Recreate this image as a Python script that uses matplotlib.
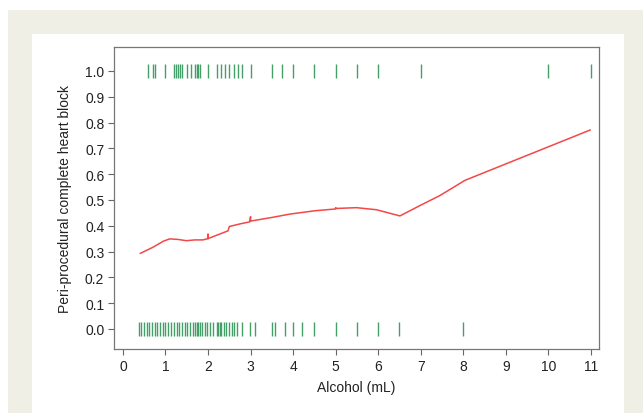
import matplotlib
matplotlib.use("Agg")
import matplotlib.pyplot as plt
from matplotlib.patches import Rectangle
import numpy as np

# observed alcohol doses, split by outcome (rug marks)
alc_block = [0.6, 0.7, 0.75, 1.0, 1.2, 1.25, 1.3, 1.35, 1.4, 1.5, 1.6, 1.7, 1.73, 1.76, 1.8,
             2.0, 2.2, 2.3, 2.4, 2.5, 2.6, 2.7, 2.8, 3.0, 3.5, 3.75, 4.0, 4.5, 5.0, 5.5, 6.0,
             7.0, 10.0, 11.0]
alc_noblock = [0.37, 0.43, 0.5, 0.56, 0.62, 0.69, 0.75, 0.81, 0.88, 0.94, 1.0, 1.07, 1.13,
               1.2, 1.26, 1.32, 1.39, 1.45, 1.51, 1.58, 1.64, 1.7, 1.73, 1.76, 1.8, 1.86,
               1.92, 1.98, 2.05, 2.11, 2.2, 2.24, 2.27, 2.31, 2.37, 2.43, 2.5, 2.56, 2.62,
               2.68, 2.8, 2.98, 3.1, 3.5, 3.58, 3.8, 4.0, 4.2, 4.5, 5.0, 5.5, 6.0, 6.5, 8.0]

# smoothed probability curve
fit_x = [0.41, 0.7, 0.95, 1.1, 1.29, 1.49, 1.69, 1.88, 2.0, 2.0, 2.0, 2.2, 2.47, 2.5,
         2.75, 2.98, 3.0, 3.0, 3.5, 3.92, 4.51, 5.0, 5.0, 5.02, 5.49, 5.96, 6.51, 6.98,
         7.45, 8.04, 10.98]
fit_y = [0.293, 0.316, 0.340, 0.349, 0.347, 0.342, 0.345, 0.345, 0.350, 0.367, 0.350,
         0.363, 0.380, 0.397, 0.407, 0.415, 0.435, 0.418, 0.432, 0.445, 0.458, 0.465,
         0.470, 0.467, 0.470, 0.462, 0.438, 0.478, 0.517, 0.576, 0.771]

W, H = 643, 414
fig = plt.figure(figsize=(W / 100, H / 100), dpi=100)
fig.patch.set_facecolor("white")

def px_rect(x0, y0, x1, y1, color):
    fig.add_artist(Rectangle((x0 / W, 1 - y1 / H), (x1 - x0) / W, (y1 - y0) / H,
                             transform=fig.transFigure, facecolor=color,
                             edgecolor="none", zorder=-10))

px_rect(8, 11, 643, 414, "#efefe6")
px_rect(32, 35, 624, 414, "white")

ax = fig.add_axes([114 / W, 1 - 350 / H, (599 - 114) / W, (350 - 48) / H])
ax.set_facecolor("white")

green = "#44a068"
h = 0.026
ax.vlines(alc_block, 1 - h, 1 + h, color=green, linewidth=1)
ax.vlines(alc_noblock, -h, h, color=green, linewidth=1)
ax.plot(fit_x, fit_y, color="#f24848", linewidth=1.1)

ax.set_xlim(-0.21, 11.19)
ax.set_ylim(-0.078, 1.093)
ax.set_xticks(range(0, 12))
ax.set_yticks(np.arange(0, 11) / 10)
ax.set_yticklabels(["%.1f" % (v / 10) for v in range(11)])

font = "Liberation Sans"
for lab in ax.get_xticklabels() + ax.get_yticklabels():
    lab.set_fontfamily(font)
    lab.set_fontsize(10)
    lab.set_color("#222222")
ax.tick_params(direction="out", length=4, width=0.8, color="#666666", pad=3)
for s in ax.spines.values():
    s.set_color("#777777")
    s.set_linewidth(0.9)

ax.set_xlabel("Alcohol (mL)", fontfamily=font, fontsize=10, color="#222222", labelpad=5)
ax.set_ylabel("Peri-procedural complete heart block", fontfamily=font, fontsize=10,
              color="#222222", labelpad=9)

fig.savefig("out.png", dpi=100)
